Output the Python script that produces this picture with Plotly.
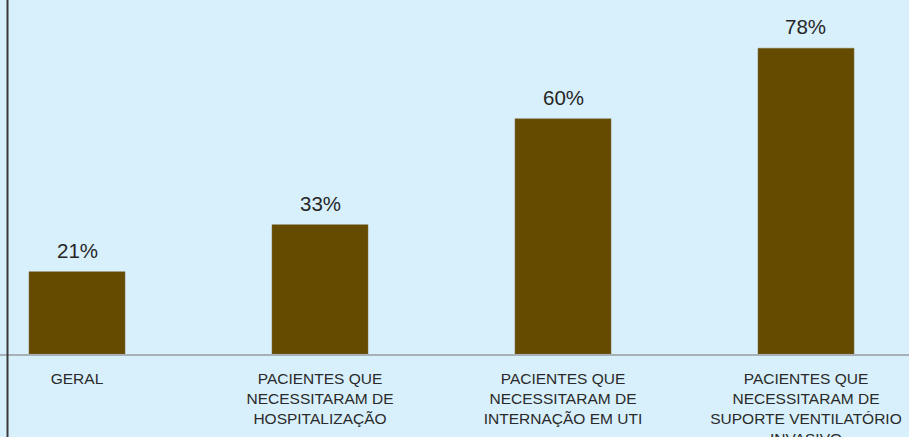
import plotly.graph_objects as go

categories = [
    "GERAL",
    "PACIENTES QUE<br>NECESSITARAM DE<br>HOSPITALIZAÇÃO",
    "PACIENTES QUE<br>NECESSITARAM DE<br>INTERNAÇÃO EM UTI",
    "PACIENTES QUE<br>NECESSITARAM DE<br>SUPORTE VENTILATÓRIO<br>INVASIVO",
]
values = [21, 33, 60, 78]
value_labels = ["21%", "33%", "60%", "78%"]

BG = "#D8F0FC"
BAR = "#654B00"
FONT = "Liberation Sans, Arial, sans-serif"

x_idx = list(range(len(categories)))

fig = go.Figure()
fig.add_trace(go.Bar(
    x=x_idx, y=values,
    marker=dict(color=BAR, line=dict(color="#7a6a3a", width=0.5)),
    width=0.395,
    hoverinfo="skip",
))

for xi, v, t in zip(x_idx, values, value_labels):
    fig.add_annotation(x=xi, y=v, text=t, showarrow=False, yanchor="bottom",
                       yshift=8, font=dict(family=FONT, size=20.5, color="#262626"))

fig.update_layout(
    width=909, height=437,
    margin=dict(l=0, r=0, t=0, b=83, pad=0, autoexpand=False),
    paper_bgcolor=BG, plot_bgcolor=BG,
    showlegend=False,
    xaxis=dict(
        range=[-0.3169, 3.4239], automargin=False,
        tickmode="array", tickvals=x_idx, ticktext=categories,
        tickfont=dict(family=FONT, size=15.5, color="#2a2a2a"),
        showline=True, linecolor="#A9B1B8", linewidth=2,
        showgrid=False, zeroline=False,
        ticks="outside", ticklen=9, tickcolor="rgba(0,0,0,0)",
    ),
    yaxis=dict(range=[0, 90.3], visible=False, showgrid=False, zeroline=False,
               automargin=False),
    shapes=[dict(type="line", xref="paper", yref="paper",
                 x0=7.5/909, x1=7.5/909, y0=-83/354, y1=1,
                 line=dict(color="#3a3a3a", width=2))],
)

fig.write_html(
    "out.html",
    config={"displayModeBar": False},
    post_script="document.body.style.margin='0';document.body.style.overflow='hidden';",
)
